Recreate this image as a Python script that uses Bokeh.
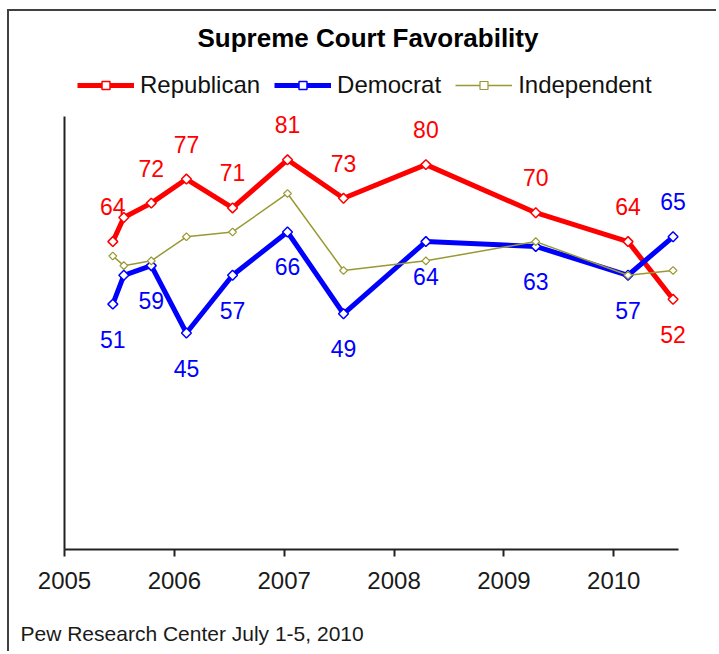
import math
from bokeh.plotting import figure
from bokeh.models import ColumnDataSource, Legend, LegendItem, Title, FixedTicker, Range1d
from bokeh.core.properties import value
from bokeh.embed import file_html
from bokeh.resources import INLINE

# ---- data ----
survey_dates = [2005.44, 2005.54, 2005.79, 2006.11, 2006.53, 2007.03,
                2007.54, 2008.29, 2009.29, 2010.13, 2010.54]
republican = [64, 69, 72, 77, 71, 81, 73, 80, 70, 64, 52]
democrat = [51, 57, 59, 45, 57, 66, 49, 64, 63, 57, 65]
independent = [61, 59, 60, 65, 66, 74, 58, 60, 64, 57, 58]
rep_labels = ["64", "", "72", "77", "71", "81", "73", "80", "70", "64", "52"]
dem_labels = ["51", "", "59", "45", "57", "66", "49", "64", "63", "57", "65"]
year_ticks = [2005, 2006, 2007, 2008, 2009, 2010]
series_names = ["Republican", "Democrat", "Independent"]
title_text = "Supreme Court Favorability"
source_text = "Pew Research Center July 1-5, 2010"

RED = "#FF0000"
BLUE = "#0000FF"
OLIVE = "#999933"
FONT = "Liberation Sans"

n = len(survey_dates)
src = ColumnDataSource(dict(
    x=survey_dates, rep=republican, dem=democrat, ind=independent,
    rep_lab=rep_labels, dem_lab=dem_labels,
    rep_off=[-35] * (n - 1) + [35],
    dem_off=[35] * (n - 1) + [-35],
))

p = figure(width=709, height=642, output_backend="svg", toolbar_location=None,
           title=None,
           x_range=Range1d(2005, 2010.899), y_range=Range1d(0, 101.85),
           min_border_left=55, min_border_right=6,
           min_border_top=48, min_border_bottom=104)
p.styles = {"margin-left": "7px", "margin-top": "9px",
            "border-left": "2px solid #404040", "border-top": "2px solid #404040"}
p.background_fill_color = "white"
p.border_fill_color = "white"
p.outline_line_color = None
p.xgrid.visible = False
p.ygrid.visible = False

r_line = p.line("x", "rep", source=src, line_color=RED, line_width=5, line_join="round")
r_pts = p.scatter("x", "rep", source=src, marker="square", angle=math.pi / 4, size=7,
                  fill_color="white", line_color=RED, line_width=1.5)
d_line = p.line("x", "dem", source=src, line_color=BLUE, line_width=5, line_join="round")
d_pts = p.scatter("x", "dem", source=src, marker="square", angle=math.pi / 4, size=7,
                  fill_color="white", line_color=BLUE, line_width=1.5)
i_line = p.line("x", "ind", source=src, line_color=OLIVE, line_width=1.5, line_join="round")
i_pts = p.scatter("x", "ind", source=src, marker="square", angle=math.pi / 4, size=5.5,
                  fill_color="white", line_color=OLIVE, line_width=1.2)

p.text("x", "rep", text="rep_lab", source=src, y_offset="rep_off",
       text_align="center", text_baseline="middle", text_color=RED,
       text_font=value(FONT), text_font_size="23px")
p.text("x", "dem", text="dem_lab", source=src, y_offset="dem_off",
       text_align="center", text_baseline="middle", text_color=BLUE,
       text_font=value(FONT), text_font_size="23px")

# axes
xa = p.xaxis[0]
xa.ticker = FixedTicker(ticks=year_ticks)
xa.bounds = (2005, 2010.59)
xa.minor_tick_line_color = None
xa.major_tick_in = 0
xa.major_tick_out = 7
xa.major_tick_line_width = 2
xa.major_tick_line_color = "#222222"
xa.axis_line_width = 2
xa.axis_line_color = "#222222"
xa.major_label_text_font = FONT
xa.major_label_text_font_size = "24px"
xa.major_label_text_color = "#1a1a1a"
xa.major_label_standoff = 15

ya = p.yaxis[0]
ya.ticker = FixedTicker(ticks=[])
ya.bounds = (0, 90)
ya.minor_tick_line_color = None
ya.major_tick_line_color = None
ya.major_label_text_font_size = "0px"
ya.axis_line_width = 2
ya.axis_line_color = "#222222"

legend = Legend(items=[
    LegendItem(label=series_names[0], renderers=[r_line, r_pts]),
    LegendItem(label=series_names[1], renderers=[d_line, d_pts]),
    LegendItem(label=series_names[2], renderers=[i_line, i_pts]),
], orientation="horizontal", location=(13, 450), glyph_width=57, glyph_height=20,
    label_standoff=6, spacing=14, padding=0, margin=0,
    label_text_font=FONT, label_text_font_size="24px", label_text_color="#111111",
    border_line_color=None, background_fill_alpha=0)
p.add_layout(legend, "center")

p.add_layout(Title(text=title_text, align="left", offset=133, standoff=14,
                   text_font=FONT, text_font_size="26px", text_font_style="bold",
                   text_color="#000000"), "above")
# blank spacer between the axis labels and the source line
p.add_layout(Title(text=" ", align="left", standoff=13,
                   text_font=FONT, text_font_size="10px"), "below")
p.add_layout(Title(text=source_text, align="left", offset=-44, standoff=4,
                   vertical_align="bottom",
                   text_font=FONT, text_font_size="21px", text_font_style="normal",
                   text_color="#1a1a1a"), "below")

open("out.html", "w").write(file_html(p, INLINE))
